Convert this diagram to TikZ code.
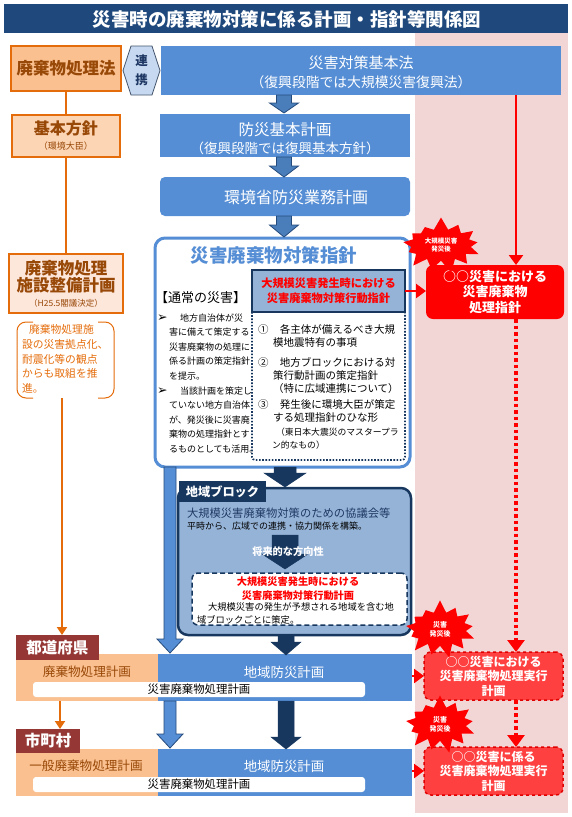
\documentclass[tikz,border=0pt]{standalone}
\usepackage{fontspec}
\setmainfont{Noto Sans CJK JP}
\newfontfamily\dejavu{DejaVu Sans}
\usetikzlibrary{shapes.symbols,arrows.meta}
\definecolor{titlebg}{HTML}{1F497D}
\definecolor{pinkbg}{HTML}{F2D6D6}
\definecolor{orgA}{HTML}{FAC090}
\definecolor{orgB}{HTML}{FCD5B5}
\definecolor{orgD}{HTML}{FDE6DA}
\definecolor{orgC}{HTML}{E46C0A}
\definecolor{brownT}{HTML}{984807}
\definecolor{renkeiF}{HTML}{C6D9F1}
\definecolor{renkeiD}{HTML}{44546A}
\definecolor{navyT}{HTML}{1F3864}
\definecolor{bluebox}{HTML}{558ED5}
\definecolor{arrowBF}{HTML}{4A7EBB}
\definecolor{arrowBD}{HTML}{254B7C}
\definecolor{navyD}{HTML}{17375E}
\definecolor{blockF}{HTML}{95B3D7}
\definecolor{actF}{HTML}{95B3D7}
\definecolor{redL}{HTML}{FF4040}
\definecolor{redD}{HTML}{E00000}
\definecolor{labelR}{HTML}{953735}
\definecolor{orgRow}{HTML}{FAC090}
\newcommand{\fsz}[2]{\fontsize{#1pt}{#2pt}\selectfont}
% block arrow pointing down: style, x, ytop, ytip, half shaft, half head, head length
\newcommand{\blockdown}[7]{%
  \filldraw[#1] ({#2-#5},#3) -- ({#2+#5},#3) -- ({#2+#5},{#4-#7}) -- ({#2+#6},{#4-#7})
    -- (#2,#4) -- ({#2-#6},{#4-#7}) -- ({#2-#5},{#4-#7}) -- cycle;}
\newcommand{\bul}{\makebox[23pt][l]{\dejavu\fsz{12.5}{14.6}➢}}
\begin{document}
\begin{tikzpicture}[x=1pt,y=-1pt,
  every node/.style={inner sep=0pt, outer sep=0pt},
  rect/.style n args={4}{anchor=north west, at={(#1,#2)},
    minimum width={(#3-#1)*1pt}, minimum height={(#4-#2)*1pt}},
  bluerect/.style={fill=bluebox, text=white},
  arrowT/.style={fill=arrowBF, draw=arrowBD, line width=0.8pt},
  arrowL/.style={fill=bluebox, draw=arrowBD, line width=0.8pt},
  arrowN/.style={fill=navyD, draw=navyD, line width=0.5pt},
  orglink/.style={draw=orgC, line width=2pt},
  redarrow/.style={draw=red, line width=2.6pt, -{Triangle[length=10pt,width=14pt]}},
  reddots/.style={draw=red, line width=3.5pt, dash pattern=on 3.5pt off 3pt, -{Triangle[length=12pt,width=17pt]}},
  burst/.style={starburst, fill=red, draw=none, text=white, align=center,
    starburst points=13, starburst point height=13pt, random starburst=7,
    inner xsep=5pt, inner ysep=4pt},
  redbox/.style={fill=redL, draw=redD, dashed, line width=1.5pt, rounded corners=7pt,
    align=center, text=white, font=\bfseries\fsz{12}{14.5}}
]
\useasboundingbox (0,0) rectangle (572,817);
\fill[pinkbg] (415,33) rectangle (568,813);
% title
\node[rect={4}{4}{568}{33}, fill=titlebg] (titlebar) {};
\node[text=white, font=\bfseries\fsz{18.5}{20}] (title) at (287,19) {災害時の廃棄物対策に係る計画・指針等関係図};
% top row
\node[rect={11}{46}{121}{91}, fill=orgA, draw=orgC, line width=1.5pt, text=brownT, font=\bfseries\fsz{16.5}{18}] (law) {廃棄物処理法};
\draw[fill=renkeiF, draw=renkeiD, line width=0.8pt] (123,70.5) -- (131,46) -- (152,46) -- (160,70.5) -- (152,95) -- (131,95) -- cycle;
\node[align=center, text=navyT, font=\bfseries\fsz{12.5}{19}] (renkei) at (141.5,70.5) {連\\携};
\node[rect={161}{46}{561}{95}, bluerect] (kihonho) {};
\node[align=center, text=white, font=\fsz{15}{19}] (kihonhotext) at (361,72) {災害対策基本法\\{\fsz{13.8}{19}（復興段階では大規模災害復興法）}};
% central column
\node[rect={160}{114}{410}{157}, bluerect] (bousai) {};
\node[align=center, text=white, font=\fsz{15.5}{18}] (bousaitext) at (285,139) {防災基本計画\\{\fsz{13.5}{18}（復興段階では復興基本方針）}};
\node[rect={160}{177}{410}{216}, bluerect, rounded corners=5pt] (kankyo) {};
\node[text=white, font=\fsz{16}{18}] (kankyotext) at (296,197) {環境省防災業務計画};
\blockdown{arrowT}{284}{95}{113}{7.5}{14.5}{10}
\blockdown{arrowT}{284}{157}{177}{7.5}{14.5}{11}
% guideline box
\node[rect={155}{238}{410}{467}, draw=bluebox, line width=3pt, rounded corners=10pt, fill=white] (guide) {};
\blockdown{arrowT}{284}{216}{237}{7.5}{14.5}{12}
\node[text=bluebox, font=\bfseries\fsz{18.5}{20}] (guidetitle) at (274,255) {災害廃棄物対策指針};
\node[anchor=west, font=\fsz{13}{15}] (normaltitle) at (155,298) {【通常の災害】};
\node[anchor=north west, align=left, font=\fsz{9}{14.6}] (normaltext) at (157,313.5) {%
\bul 地方自治体が災\\
\hspace*{12pt}害に備えて策定する\\
\hspace*{12pt}災害廃棄物の処理に\\
\hspace*{12pt}係る計画の策定指針\\
\hspace*{12pt}を提示。\\
\bul 当該計画を策定し\\
\hspace*{12pt}ていない地方自治体\\
\hspace*{12pt}が、発災後に災害廃\\
\hspace*{12pt}棄物の処理指針とす\\
\hspace*{12pt}るものとしても活用。};
\node[rect={252}{270}{405}{312}, fill=actF, draw=navyD, line width=1.8pt, align=center, text=red, font=\bfseries\fsz{11.2}{15}] (actinner) {大規模災害発生時における\\災害廃棄物対策行動指針};
\draw[navyD, line width=1.6pt, dash pattern=on 1.6pt off 1.6pt, rounded corners=3pt] (actinner.south west) -- (252,460) -- (405,460) -- (actinner.south east);
\node[anchor=north west, align=left, font=\fsz{10.5}{13}] (item1) at (258,325) {①\hspace*{11.5pt}各主体が備えるべき大規\\\hspace*{15pt}模地震特有の事項};
\node[anchor=north west, align=left, font=\fsz{10.5}{13}] (item2) at (258,357) {②\hspace*{11.5pt}地方ブロックにおける対\\\hspace*{15pt}策行動計画の策定指針\\\hspace*{15pt}（特に広域連携について）};
\node[anchor=north west, align=left, font=\fsz{10.5}{13}] (item3) at (258,400) {③\hspace*{11.5pt}発生後に環境大臣が策定\\\hspace*{15pt}する処理指針のひな形};
\node[anchor=north west, align=left, font=\fsz{8.8}{13}] (item4) at (272,427.5) {\hspace*{4pt}（東日本大震災のマスタープラ\\ン的なもの）};
% red column
\coordinate (redx) at (516,0);
\node[rect={426}{265}{564}{319}, fill=red, rounded corners=7pt, align=center, text=white, font=\bfseries\fsz{13}{15.5}] (redbox1) {○○災害における\\災害廃棄物\\処理指針};
\node[rect={424}{652}{563}{700}, redbox] (redbox2) {○○災害における\\災害廃棄物処理実行\\計画};
\node[rect={424}{747}{563}{795}, redbox] (redbox3) {○○災害に係る\\災害廃棄物処理実行\\計画};
\draw[redarrow] (kihonho.south -| redx) -- (redbox1.north -| redx);
\draw[redarrow] (actinner.east) -- (actinner.east -| redbox1.west);
\draw[reddots] (redbox1.south -| redx) -- (redbox2.north -| redx);
\draw[reddots] (redbox2.south -| redx) -- (redbox3.north -| redx);
% left column
\node[rect={12}{115}{120}{157}, fill=orgB, draw=orgC, line width=1.2pt, align=center, text=brownT, font=\fsz{9}{15}] (kihon) {{\bfseries\fsz{16}{15}基本方針}\\（環境大臣）};
\node[rect={9}{254}{123}{313}, fill=orgD, draw=orgC, line width=1.2pt, align=center, text=brownT, font=\fsz{8.5}{15}] (shisetsu) {{\bfseries\fsz{16.5}{19}廃棄物処理}\\{\bfseries\fsz{16.5}{19}施設整備計画}\\（H25.5閣議決定）};
\draw[orglink] (law.south) -- (kihon.north);
\draw[orglink] (kihon.south) -- (shisetsu.north);
\node[rect={17}{322}{114}{398}] (note) {};
\draw[orgC, line width=1pt, rounded corners=9pt] (33,322) -- (17,322) -- (17,398) -- (33,398);
\draw[orgC, line width=1pt, rounded corners=9pt] (98,322) -- (114,322) -- (114,398) -- (98,398);
\node[anchor=north west, align=left, text=orgC, font=\fsz{10.8}{14.8}] (notetext) at (22,324.5) {\hspace*{7pt}廃棄物処理施\\設の災害拠点化、\\耐震化等の観点\\からも取組を推\\進。};
% regional block
\blockdown{arrowL}{170}{467}{653}{6}{13}{14}
\blockdown{arrowN}{285}{467}{487}{11}{21}{14}
\node[rect={178}{488}{411}{635}, fill=blockF, draw=navyD, line width=2.5pt, rounded corners=10pt] (block) {};
\node[rect={179}{481}{266}{502}, fill=navyD, text=white, font=\bfseries\fsz{12.2}{14}] (blocktab) {地域ブロック};
\node[anchor=west, text=navyT, font=\fsz{11.3}{13}] (council) at (187,513) {大規模災害廃棄物対策のための協議会等};
\node[anchor=west, text=black, font=\fsz{9}{11}] (councilsub) at (187,526) {平時から、広域での連携・協力関係を構築。};
\blockdown{arrowN}{285}{535}{569}{13}{23}{15}
\node[text=white, font=\bfseries\fsz{10.2}{12}] (future) at (288,552) {将来的な方向性};
\node[rect={192}{573}{407}{625}, fill=white, draw=navyD, line width=1.5pt, dash pattern=on 5pt off 3pt, rounded corners=6pt] (actplan) {};
\node[align=center, text=red, font=\bfseries\fsz{10.2}{14}] (actplantitle) at (298,589) {大規模災害発生時における\\災害廃棄物対策行動計画};
\node[anchor=north west, align=left, font=\fsz{9.3}{13}] (actplanbody) at (197,603) {\hspace*{11pt}大規模災害の発生が予想される地域を含む地\\域ブロックごとに策定。};
% prefecture row
\node[rect={16}{654}{158}{701}, fill=orgRow] (preforg) {};
\node[rect={158}{654}{412}{701}, fill=bluebox] (prefblue) {};
\node[text=brownT, font=\fsz{12.6}{14}] (prefwaste) at (87,672) {廃棄物処理計画};
\node[text=white, font=\fsz{13.4}{15}] (prefdis) at (284,672) {地域防災計画};
\node[rect={33}{682}{365}{697}, fill=white, rounded corners=3pt, font=\fsz{11.4}{13}] (prefbar) {災害廃棄物処理計画};
\node[rect={16}{635}{99}{660}, fill=labelR, text=white, font=\bfseries\fsz{15.5}{17}] (preflabel) {都道府県};
\coordinate (orgx) at (62,0);
\draw[orglink, -{Triangle[length=8pt,width=10pt]}] (note.south -| orgx) -- (preflabel.north -| orgx);
\blockdown{arrowN}{286}{635}{655}{8}{15}{13}
% municipality row
\node[rect={16}{749}{158}{796}, fill=orgRow] (muniorg) {};
\node[rect={158}{749}{412}{796}, fill=bluebox] (muniblue) {};
\node[text=brownT, font=\fsz{12.6}{14}] (muniwaste) at (86,766) {一般廃棄物処理計画};
\node[text=white, font=\fsz{13.4}{15}] (munidis) at (284,766) {地域防災計画};
\node[rect={33}{777}{365}{792}, fill=white, rounded corners=3pt, font=\fsz{11.4}{13}] (munibar) {災害廃棄物処理計画};
\node[rect={16}{729}{80}{753}, fill=labelR, text=white, font=\bfseries\fsz{15.5}{17}] (munilabel) {市町村};
\coordinate (orgx2) at (60,0);
\draw[orglink, -{Triangle[length=8pt,width=10pt]}] (preforg.south -| orgx2) -- (munilabel.north -| orgx2);
\blockdown{arrowL}{170}{701}{748}{6}{13}{14}
\blockdown{arrowN}{286}{701}{749}{8}{15}{12}
\draw[redarrow] (prefblue.east |- redbox2.west) -- (redbox2.west);
\draw[redarrow] (muniblue.east |- redbox3.west) -- (redbox3.west);
% bursts
\node[burst, font=\bfseries\fsz{6.5}{8}] (burst1) at (441,245) {大規模災害\\発災後};
\node[burst, inner xsep=8pt, font=\bfseries\fsz{7}{9}] (burst2) at (440,629) {災害\\発災後};
\node[burst, inner xsep=8pt, font=\bfseries\fsz{7}{9}] (burst3) at (440,724) {災害\\発災後};
\end{tikzpicture}
\end{document}
